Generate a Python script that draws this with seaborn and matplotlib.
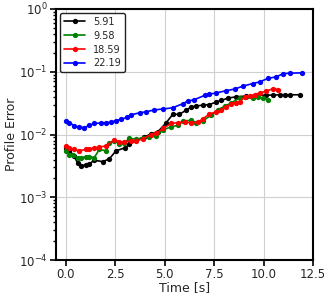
import numpy as np
import pandas as pd
import seaborn as sns
from matplotlib import pyplot as plt

# 各系列のデータ
labels = ['5.91', '9.58', '18.59', '22.19']
colors = ['black', 'green', 'red', 'blue']

t_black = [0.0, 0.17, 0.42, 0.59, 0.76, 1.01, 1.18, 1.43, 1.86, 2.19, 2.53, 3.01,
           3.21, 3.55, 3.97, 4.31, 4.64, 5.07, 5.40, 5.74, 6.08, 6.34, 6.59, 6.92,
           7.26, 7.60, 7.86, 8.19, 8.62, 9.12, 9.63, 10.14, 10.47, 10.81, 11.06,
           11.32, 11.82]
e_black = [0.0060, 0.0056, 0.0045, 0.0035, 0.0032, 0.0033, 0.0034, 0.0039, 0.0037,
           0.0041, 0.0055, 0.0062, 0.0070, 0.0081, 0.0092, 0.0102, 0.0110, 0.0154,
           0.0210, 0.0210, 0.0245, 0.0275, 0.0285, 0.0294, 0.0300, 0.0330, 0.0350,
           0.0380, 0.0400, 0.0410, 0.0420, 0.0425, 0.0425, 0.0430, 0.0430, 0.0430,
           0.0430]

t_green = [0.0, 0.17, 0.34, 0.59, 0.76, 1.01, 1.18, 1.43, 1.69, 2.03, 2.19, 2.45,
           2.70, 2.95, 3.21, 3.55, 3.88, 4.22, 4.56, 4.90, 5.32, 5.66, 5.91, 6.34,
           6.59, 6.92, 7.35, 7.68, 8.02, 8.36, 8.78, 9.12, 9.46, 9.71, 9.96, 10.22]
e_green = [0.0055, 0.0048, 0.0048, 0.0042, 0.0043, 0.0044, 0.0044, 0.0043, 0.0058,
           0.0055, 0.0074, 0.0078, 0.0072, 0.0074, 0.0087, 0.0084, 0.0089, 0.0092,
           0.0094, 0.0118, 0.0133, 0.0140, 0.0165, 0.0168, 0.0155, 0.0165, 0.0204,
           0.0250, 0.0280, 0.0320, 0.0380, 0.0390, 0.0385, 0.0390, 0.0380, 0.0360]

t_red = [0.0, 0.17, 0.42, 0.67, 1.01, 1.18, 1.43, 1.69, 2.03, 2.45, 2.70, 2.95,
         3.29, 3.55, 3.88, 4.31, 4.56, 4.90, 5.32, 5.66, 6.00, 6.34, 6.67, 6.92,
         7.26, 7.60, 7.86, 8.11, 8.36, 8.62, 8.78, 9.04, 9.29, 9.54, 9.80, 10.14,
         10.47, 10.72]
e_red = [0.0066, 0.0062, 0.0058, 0.0055, 0.0058, 0.0058, 0.0062, 0.0063, 0.0066,
         0.0083, 0.0076, 0.0076, 0.0080, 0.0078, 0.0086, 0.0100, 0.0104, 0.0125,
         0.0150, 0.0155, 0.0158, 0.0153, 0.0158, 0.0177, 0.0213, 0.0230, 0.0245,
         0.0270, 0.0310, 0.0320, 0.0330, 0.0400, 0.0410, 0.0430, 0.0460, 0.0490,
         0.0540, 0.0520]

t_blue = [0.0, 0.17, 0.42, 0.67, 0.93, 1.18, 1.43, 1.77, 2.03, 2.28, 2.53, 2.79,
          3.07, 3.29, 3.72, 4.05, 4.47, 4.90, 5.40, 5.91, 6.16, 6.50, 7.01, 7.26,
          7.60, 8.11, 8.53, 8.95, 9.46, 9.80, 10.22, 10.64, 10.98, 11.32, 11.94]
e_blue = [0.0163, 0.0155, 0.0138, 0.0131, 0.0129, 0.0140, 0.0150, 0.0153, 0.0154,
          0.0157, 0.0167, 0.0175, 0.0187, 0.0206, 0.0222, 0.0230, 0.0247, 0.0255,
          0.0267, 0.0310, 0.0340, 0.0360, 0.0420, 0.0440, 0.0460, 0.0500, 0.0530,
          0.0590, 0.0650, 0.0690, 0.0785, 0.0830, 0.0930, 0.0950, 0.0960]

series = [(t_black, e_black), (t_green, e_green), (t_red, e_red), (t_blue, e_blue)]

rows = []
for lab, (t, e) in zip(labels, series):
    for ti, ei in zip(t, e):
        rows.append({'Time': ti, 'Error': ei, 'case': lab})
df = pd.DataFrame(rows)

sns.set_style('whitegrid')
plt.rcParams['font.family'] = ['DejaVu Sans']

fig = plt.figure(figsize=(3.32, 2.99), dpi=100)
ax = fig.add_axes([0.169, 0.130, 0.774, 0.840])

sns.lineplot(data=df, x='Time', y='Error', hue='case', hue_order=labels,
             palette=colors, marker='o', markersize=3.8, markeredgewidth=0,
             linewidth=1.2, sort=False, ax=ax)

ax.set_yscale('log')
ax.set_ylim(1e-4, 1)
ax.set_xlim(-0.5, 12.5)
ax.set_xticks([0, 2.5, 5, 7.5, 10, 12.5])
ax.set_xlabel('Time [s]', fontsize=9, labelpad=0)
ax.set_ylabel('Profile Error', fontsize=9, labelpad=1)
ax.tick_params(axis='both', which='major', labelsize=8.5, length=4, width=1.2,
               direction='out', left=True, bottom=True, color='black', pad=2)
ax.tick_params(axis='y', which='minor', length=2.5, width=1, left=True, color='black')
ax.grid(True, which='major', color='#d0d0d0', linewidth=0.8)
ax.grid(False, which='minor')
for sp in ax.spines.values():
    sp.set_color('black')
    sp.set_linewidth(1.5)

# 凡例
leg = ax.legend(loc='upper left', fontsize=7, frameon=True, fancybox=True,
                edgecolor='#222222', framealpha=1, handlelength=2.2,
                labelspacing=0.4, borderaxespad=0.4)
leg.get_frame().set_linewidth(1.0)

fig.savefig('out.png', dpi=100)
